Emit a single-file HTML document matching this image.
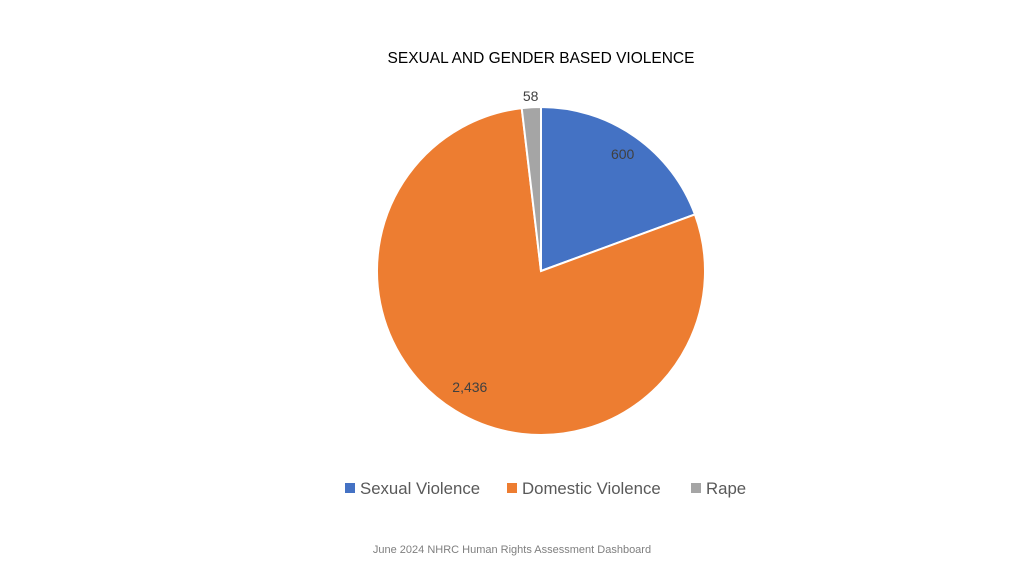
<!DOCTYPE html>
<html>
<head>
<meta charset="utf-8">
<style>
  html,body{margin:0;padding:0;background:#fff;}
  body{width:1024px;height:576px;overflow:hidden;font-family:"Liberation Sans",sans-serif;}
  svg{display:block;}
</style>
</head>
<body>
<svg id="chart" width="1024" height="576" viewBox="0 0 1024 576">
  <text x="541" y="63" text-anchor="middle" font-size="15.5" fill="#000">SEXUAL AND GENDER BASED VIOLENCE</text>
  <g id="slices"></g>
  <g id="labels"></g>
  <g id="legend"></g>
  <text x="512" y="553" text-anchor="middle" font-size="11" fill="#7f7f7f">June 2024 NHRC Human Rights Assessment Dashboard</text>
</svg>
<script>
const categories = ["Sexual Violence", "Domestic Violence", "Rape"];
const values = [600, 2436, 58];
const valueLabels = ["600", "2,436", "58"];
const colors = ["#4472c4", "#ed7d31", "#a5a5a5"];

const NS = "http://www.w3.org/2000/svg";
const cx = 541, cy = 271, r = 164;
const labelFactor = [0.87, 0.83, 1.07];
const total = values.reduce((a, b) => a + b, 0);
function pt(angDeg, rad) {
  const a = angDeg * Math.PI / 180;
  return [cx + rad * Math.sin(a), cy - rad * Math.cos(a)];
}
const gS = document.getElementById('slices');
const gL = document.getElementById('labels');
let start = 0;
values.forEach((v, i) => {
  const sweep = v / total * 360;
  const end = start + sweep;
  const [x1, y1] = pt(start, r);
  const [x2, y2] = pt(end, r);
  const large = sweep > 180 ? 1 : 0;
  const p = document.createElementNS(NS, 'path');
  p.setAttribute('d', `M${cx},${cy} L${x1},${y1} A${r},${r} 0 ${large} 1 ${x2},${y2} Z`);
  p.setAttribute('fill', colors[i]);
  p.setAttribute('stroke', '#fff');
  p.setAttribute('stroke-width', '2');
  
  
  gS.appendChild(p);
  const mid = start + sweep / 2;
  const [lx, ly] = pt(mid, r * labelFactor[i]);
  const t = document.createElementNS(NS, 'text');
  t.setAttribute('x', lx);
  t.setAttribute('y', ly + 5);
  t.setAttribute('text-anchor', 'middle');
  t.setAttribute('font-size', '14');
  t.setAttribute('fill', '#404040');
  t.textContent = valueLabels[i];
  
  
  gL.appendChild(t);
  start = end;
});
const gLeg = document.getElementById('legend');
const legX = [345, 507, 691];
categories.forEach((c, i) => {
  const g = document.createElementNS(NS, 'g');
  
  
  const s = document.createElementNS(NS, 'rect');
  s.setAttribute('x', legX[i]); s.setAttribute('y', 483);
  s.setAttribute('width', 10); s.setAttribute('height', 10);
  s.setAttribute('fill', colors[i]);
  g.appendChild(s);
  const t = document.createElementNS(NS, 'text');
  t.setAttribute('x', legX[i] + 15); t.setAttribute('y', 494);
  t.setAttribute('font-size', '16.8'); t.setAttribute('fill', '#595959');
  t.textContent = c;
  g.appendChild(t);
  gLeg.appendChild(g);
});
</script>
</body>
</html>
